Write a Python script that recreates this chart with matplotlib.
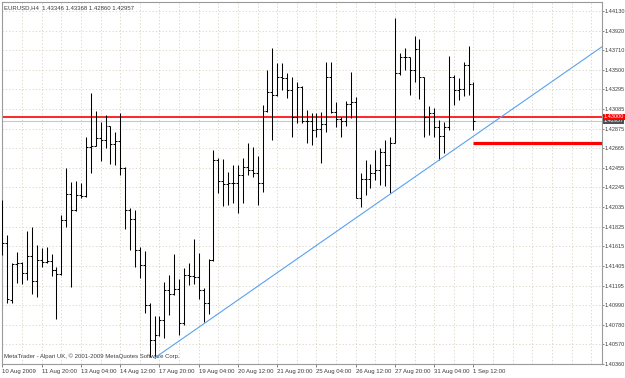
import numpy as np
import matplotlib
matplotlib.use("Agg")
import matplotlib.pyplot as plt

# EURUSD H4 bars, 10 Aug 2009 12:00 .. 1 Sep 2009 12:00 (one value per bar)
opens = [1.42058, 1.41652, 1.41043, 1.41427, 1.41438, 1.41331, 1.41513, 1.41246, 1.41470, 1.41449,
         1.41460, 1.41363, 1.41321, 1.41897, 1.42175, 1.42004, 1.42164, 1.42154, 1.42677, 1.42688,
         1.42773, 1.42752, 1.42901, 1.42709, 1.42741, 1.42453, 1.42004, 1.41908, 1.41577, 1.41417,
         1.40990, 1.40616, 1.40669, 1.40829, 1.41150, 1.41107, 1.41160, 1.40797, 1.41310, 1.41299,
         1.41289, 1.41150, 1.41011, 1.41470, 1.42538, 1.42314, 1.42282, 1.42293, 1.42293, 1.42378,
         1.42463, 1.42431, 1.42399, 1.42293, 1.43062, 1.43264, 1.43232, 1.43425, 1.43414, 1.43286,
         1.42997, 1.43318, 1.42955, 1.42955, 1.42859, 1.42869, 1.42923, 1.43425, 1.43051, 1.42976,
         1.42955, 1.43136, 1.43158, 1.42132, 1.42335, 1.42335, 1.42399, 1.42431, 1.42624, 1.42485,
         1.42720, 1.43467, 1.43638, 1.43638, 1.43499, 1.43724, 1.43425, 1.42997, 1.43040, 1.42891,
         1.42795, 1.42891, 1.43425, 1.43286, 1.43296, 1.43553, 1.43346]
highs = [1.42111, 1.41737, 1.41438, 1.41556, 1.41449, 1.41780, 1.41823, 1.41630, 1.41598, 1.41609,
         1.41534, 1.41395, 1.41951, 1.42453, 1.42303, 1.42314, 1.42293, 1.42784, 1.43254, 1.43062,
         1.42944, 1.43019, 1.42901, 1.42837, 1.43040, 1.42463, 1.42026, 1.42004, 1.41609, 1.41566,
         1.41011, 1.40872, 1.40872, 1.41235, 1.41310, 1.41534, 1.41267, 1.41385, 1.41438, 1.41694,
         1.41545, 1.41171, 1.41481, 1.42645, 1.42560, 1.42549, 1.42410, 1.42485, 1.42485, 1.42560,
         1.42720, 1.42677, 1.42581, 1.43126, 1.43499, 1.43734, 1.43574, 1.43574, 1.43467, 1.43425,
         1.43371, 1.43329, 1.43072, 1.43040, 1.43040, 1.43051, 1.43585, 1.43585, 1.43158, 1.42997,
         1.43168, 1.43478, 1.43211, 1.42399, 1.42538, 1.42495, 1.42645, 1.42666, 1.42752, 1.42784,
         1.44055, 1.43681, 1.43734, 1.43638, 1.43863, 1.43830, 1.43425, 1.43115, 1.43094, 1.42965,
         1.42944, 1.43649, 1.43446, 1.43414, 1.43585, 1.43756, 1.43368]
lows = [1.41524, 1.41011, 1.41011, 1.41225, 1.41214, 1.41257, 1.41107, 1.41075, 1.41395, 1.41438,
        1.41299, 1.40840, 1.41310, 1.41823, 1.41182, 1.41994, 1.42132, 1.42143, 1.42399, 1.42688,
        1.42528, 1.42666, 1.42495, 1.42485, 1.42378, 1.41801, 1.41577, 1.41395, 1.41278, 1.40904,
        1.40434, 1.40424, 1.40659, 1.40637, 1.40883, 1.41096, 1.40669, 1.40776, 1.41203, 1.41214,
        1.41054, 1.40808, 1.40893, 1.41460, 1.42186, 1.42047, 1.42058, 1.42079, 1.41972, 1.42079,
        1.42378, 1.42357, 1.42058, 1.42196, 1.43051, 1.42752, 1.43222, 1.43286, 1.43200, 1.42784,
        1.42933, 1.42933, 1.42720, 1.42698, 1.42784, 1.42506, 1.42837, 1.43040, 1.42891, 1.42784,
        1.42901, 1.42987, 1.42132, 1.42036, 1.42164, 1.42239, 1.42325, 1.42271, 1.42261, 1.42186,
        1.42720, 1.43446, 1.43499, 1.43232, 1.43371, 1.43190, 1.42784, 1.42805, 1.42784, 1.42538,
        1.42613, 1.42859, 1.43126, 1.43179, 1.43222, 1.43232, 1.42860]
closes = [1.41652, 1.41054, 1.41427, 1.41438, 1.41331, 1.41513, 1.41246, 1.41470, 1.41449, 1.41460,
          1.41363, 1.41321, 1.41897, 1.42175, 1.42004, 1.42164, 1.42154, 1.42677, 1.42688, 1.42773,
          1.42752, 1.42901, 1.42709, 1.42741, 1.42453, 1.42004, 1.41908, 1.41577, 1.41417, 1.40990,
          1.40616, 1.40669, 1.40829, 1.41150, 1.41107, 1.41160, 1.40797, 1.41310, 1.41299, 1.41289,
          1.41150, 1.41011, 1.41470, 1.42538, 1.42314, 1.42282, 1.42293, 1.42293, 1.42378, 1.42463,
          1.42431, 1.42399, 1.42293, 1.43062, 1.43264, 1.43232, 1.43425, 1.43414, 1.43286, 1.42997,
          1.43318, 1.42955, 1.42955, 1.42859, 1.42869, 1.42923, 1.43425, 1.43051, 1.42976, 1.42955,
          1.43136, 1.43158, 1.42132, 1.42335, 1.42335, 1.42399, 1.42431, 1.42624, 1.42485, 1.42720,
          1.43467, 1.43638, 1.43638, 1.43499, 1.43724, 1.43425, 1.42997, 1.43040, 1.42891, 1.42795,
          1.42891, 1.43425, 1.43286, 1.43296, 1.43553, 1.43346, 1.42957]

# one time label every 8 bars, starting at the first bar
time_labels = ['10 Aug 2009', '11 Aug 20:00', '13 Aug 04:00', '14 Aug 12:00', '17 Aug 20:00',
               '19 Aug 04:00', '20 Aug 12:00', '21 Aug 20:00', '25 Aug 04:00', '26 Aug 12:00',
               '27 Aug 20:00', '31 Aug 04:00', '1 Sep 12:00']
price_ticks = [1.44130, 1.43920, 1.43710, 1.43500, 1.43295, 1.43085, 1.42875, 1.42665, 1.42455,
               1.42245, 1.42035, 1.41825, 1.41615, 1.41405, 1.41195, 1.40990, 1.40780, 1.40570,
               1.40360]

symbol = 'EURUSD,H4'
level = 1.43000      # red horizontal line
support = 1.42720    # thick red segment from the last bar
trend_bars = (31, 89)  # trendline drawn through the lows of these bars

plt.rcParams['font.family'] = ['Liberation Sans', 'DejaVu Sans']
fs = 4.3
fs_price = 3.95
txt_col = '#3c3c3c'
grid_col = '#d8d0c2'

n = len(opens)
idx = np.arange(n)
x_right = 122.2

fig = plt.figure(figsize=(6.25, 3.78), dpi=100, facecolor='white')
ax = fig.add_axes([2 / 625, 14 / 378, 600 / 625, 362 / 378])
ax.set_xlim(-0.1, x_right)
ax.set_ylim(1.40360, 1.44226)

# dotted grid
for g in range(4, int(x_right) + 1, 4):
    ax.axvline(g, color=grid_col, lw=0.6, ls=(0, (1.5, 2.5)), zorder=0)
for p in price_ticks:
    ax.axhline(p, color=grid_col, lw=0.6, ls=(0, (1.5, 2.5)), zorder=0)

# OHLC bars
ax.vlines(idx, lows, highs, color='black', lw=0.75, zorder=3)
ax.hlines(opens, idx - 0.4, idx, color='black', lw=0.75, zorder=3)
ax.hlines(closes, idx, idx + 0.4, color='black', lw=0.75, zorder=3)

# bid line, level line, support segment
bid = closes[-1]
ax.axhline(bid, color='#c8c8c8', lw=0.8, zorder=1)
ax.axhline(level, color='#ff0000', lw=1.2, zorder=2)
ax.hlines(support, idx[-1], x_right, color='#ff0000', lw=2.3, zorder=2)

# trendline (ray to the right edge)
a, b = trend_bars
slope = (lows[b] - lows[a]) / (b - a)
ax.plot([a, x_right], [lows[a], lows[a] + slope * (x_right - a)],
        color='#5aa2ee', lw=0.8, zorder=4)

# axes
for s in ax.spines.values():
    s.set_color('#9a9a9a')
    s.set_linewidth(0.8)
ax.yaxis.tick_right()
ax.set_yticks(price_ticks)
ax.set_yticklabels(['%.5f' % p for p in price_ticks])
ax.set_xticks(idx[::8])
ax.set_xticklabels(time_labels, ha='left')
ax.tick_params(axis='x', labelsize=fs, labelcolor=txt_col, color='#707070',
               length=2.5, width=0.6, pad=1)
ax.tick_params(axis='y', labelsize=fs_price, labelcolor=txt_col, color='#707070',
               length=1.5, width=0.6, pad=0.5)

ytr = ax.get_yaxis_transform()
ax.text(1.003, bid, '%.5f' % bid, transform=ytr, fontsize=fs_price, color='white',
        va='center', ha='left', zorder=5, clip_on=False,
        bbox=dict(boxstyle='square,pad=0.12', fc='#505050', ec='none'))
ax.text(1.003, level, '%.5f' % level, transform=ytr, fontsize=fs_price, color='white',
        va='center', ha='left', zorder=6, clip_on=False,
        bbox=dict(boxstyle='square,pad=0.12', fc='#ff0000', ec='none'))

ax.text(0.004, 0.992, '%s  %.5f %.5f %.5f %.5f' % (symbol, opens[-1], highs[-1], lows[-1], closes[-1]),
        transform=ax.transAxes, fontsize=fs, color=txt_col, va='top', ha='left')
ax.text(0.004, 0.014, 'MetaTrader - Alpari UK, \u00a9 2001-2009 MetaQuotes Software Corp.',
        transform=ax.transAxes, fontsize=fs, color=txt_col, va='bottom', ha='left')

fig.savefig('out.png', dpi=100, facecolor='white')
